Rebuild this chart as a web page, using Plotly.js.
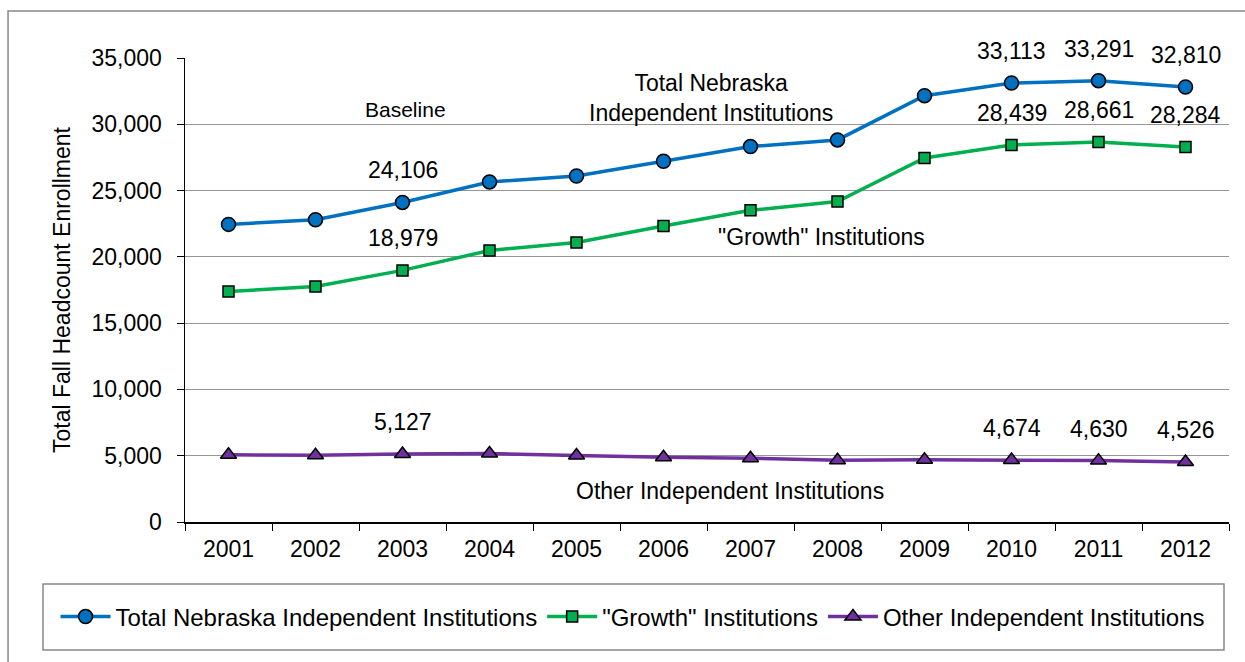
<!DOCTYPE html>
<html>
<head>
<meta charset="utf-8">
<script src="https://cdn.plot.ly/plotly-3.0.1.min.js"></script>
<style>html,body{margin:0;padding:0;background:#fff;}#chart{width:1245px;height:662px;}</style>
</head>
<body>
<div id="chart"></div>
<script>
const years = ["2001","2002","2003","2004","2005","2006","2007","2008","2009","2010","2011","2012"];
const totalNebraska = [22450, 22800, 24106, 25650, 26100, 27210, 28320, 28820, 32160, 33113, 33291, 32810];
const growthInst = [17380, 17760, 18979, 20480, 21080, 22330, 23510, 24170, 27460, 28439, 28661, 28284];
const otherInst = [5070, 5040, 5127, 5170, 5020, 4880, 4810, 4650, 4700, 4674, 4630, 4526];
const seriesNames = ["Total Nebraska Independent Institutions", "\"Growth\" Institutions", "Other Independent Institutions"];
const labeledIdx = [2, 9, 10, 11];
const yTicks = [0, 5000, 10000, 15000, 20000, 25000, 30000, 35000];

const FONT = "Liberation Sans, Arial, sans-serif";
const fmt = v => v.toLocaleString("en-US");

const traces = [
  {x: years, y: totalNebraska, name: seriesNames[0], mode: "lines+markers", type: "scatter",
   line: {color: "#0070C0", width: 3.5},
   marker: {symbol: "circle", size: 14, color: "#0070C0", line: {color: "#000", width: 1.5}}},
  {x: years, y: growthInst, name: seriesNames[1], mode: "lines+markers", type: "scatter",
   line: {color: "#00B050", width: 3.5},
   marker: {symbol: "square", size: 11, color: "#00B050", line: {color: "#000", width: 1.5}}},
  {x: years, y: otherInst, name: seriesNames[2], mode: "lines+markers", type: "scatter",
   line: {color: "#7030A0", width: 3.5},
   marker: {symbol: "triangle-up", size: 14, color: "#7030A0", line: {color: "#000", width: 1.5}}}
];

const annotations = [];
[totalNebraska, growthInst, otherInst].forEach(series => {
  labeledIdx.forEach(i => {
    annotations.push({x: i, y: series[i], xref: "x", yref: "y", text: fmt(series[i]),
      showarrow: false, yshift: 32, xanchor: "center", yanchor: "middle",
      font: {family: FONT, size: 23, color: "#000"}});
  });
});
const freeText = (x, y, text, size) => ({xref: "paper", yref: "paper", x: x, y: y, text: text,
  showarrow: false, xanchor: "center", yanchor: "middle", font: {family: FONT, size: size, color: "#000"}});
annotations.push(
  freeText(0.211, 0.888, "Baseline", 21),
  freeText(0.504, 0.914, "Total Nebraska<br>Independent Institutions", 23),
  freeText(0.610, 0.614, "\"Growth\" Institutions", 23),
  freeText(0.522, 0.067, "Other Independent Institutions", 23)
);

const layout = {
  width: 1245, height: 662,
  margin: {l: 185, r: 16, t: 58, b: 140},
  paper_bgcolor: "#fff", plot_bgcolor: "#fff",
  font: {family: FONT, size: 23, color: "#000"},
  showlegend: true,
  legend: {orientation: "h", x: -0.124, xanchor: "left", y: -0.2047, yanchor: "middle",
    borderwidth: 0, bgcolor: "rgba(0,0,0,0)", font: {family: FONT, size: 24, color: "#000"},
    itemwidth: 50, tracegroupgap: 0},
  xaxis: {type: "category", range: [-0.5, 11.5], autorange: false, showgrid: false, showline: true, linecolor: "#000", linewidth: 1.5,
    ticks: "outside", tickson: "boundaries", ticklen: 7, tickcolor: "#000", tickwidth: 1,
    ticklabelstandoff: 6,
    tickangle: 0, tickfont: {family: FONT, size: 23}, fixedrange: true},
  yaxis: {range: [0, 35000], autorange: false, tickvals: yTicks, ticktext: yTicks.map(fmt),
    showgrid: true, gridcolor: "#959595", gridwidth: 1, zeroline: false,
    showline: true, linecolor: "#000", linewidth: 1.5,
    ticks: "outside", ticklen: 7, tickcolor: "#000", tickwidth: 1,
    ticklabelstandoff: 10,
    tickfont: {family: FONT, size: 23},
    title: {text: "Total Fall Headcount Enrollment", font: {family: FONT, size: 23}, standoff: 14},
    fixedrange: true},
  annotations: annotations,
  shapes: [
    {type: "rect", xref: "paper", yref: "paper", x0: -0.1695, x1: 1.2, y0: -0.5, y1: 1.1013,
     line: {color: "#888", width: 1.5}, fillcolor: "rgba(0,0,0,0)", layer: "below"},
    {type: "rect", xref: "paper", yref: "paper", x0: -0.136, x1: 0.9952, y0: -0.2759, y1: -0.1336,
     line: {color: "#888", width: 1.5}, fillcolor: "rgba(0,0,0,0)", layer: "below"}
  ]
};

Plotly.newPlot("chart", traces, layout, {displayModeBar: false, staticPlot: true});
</script>
</body>
</html>
